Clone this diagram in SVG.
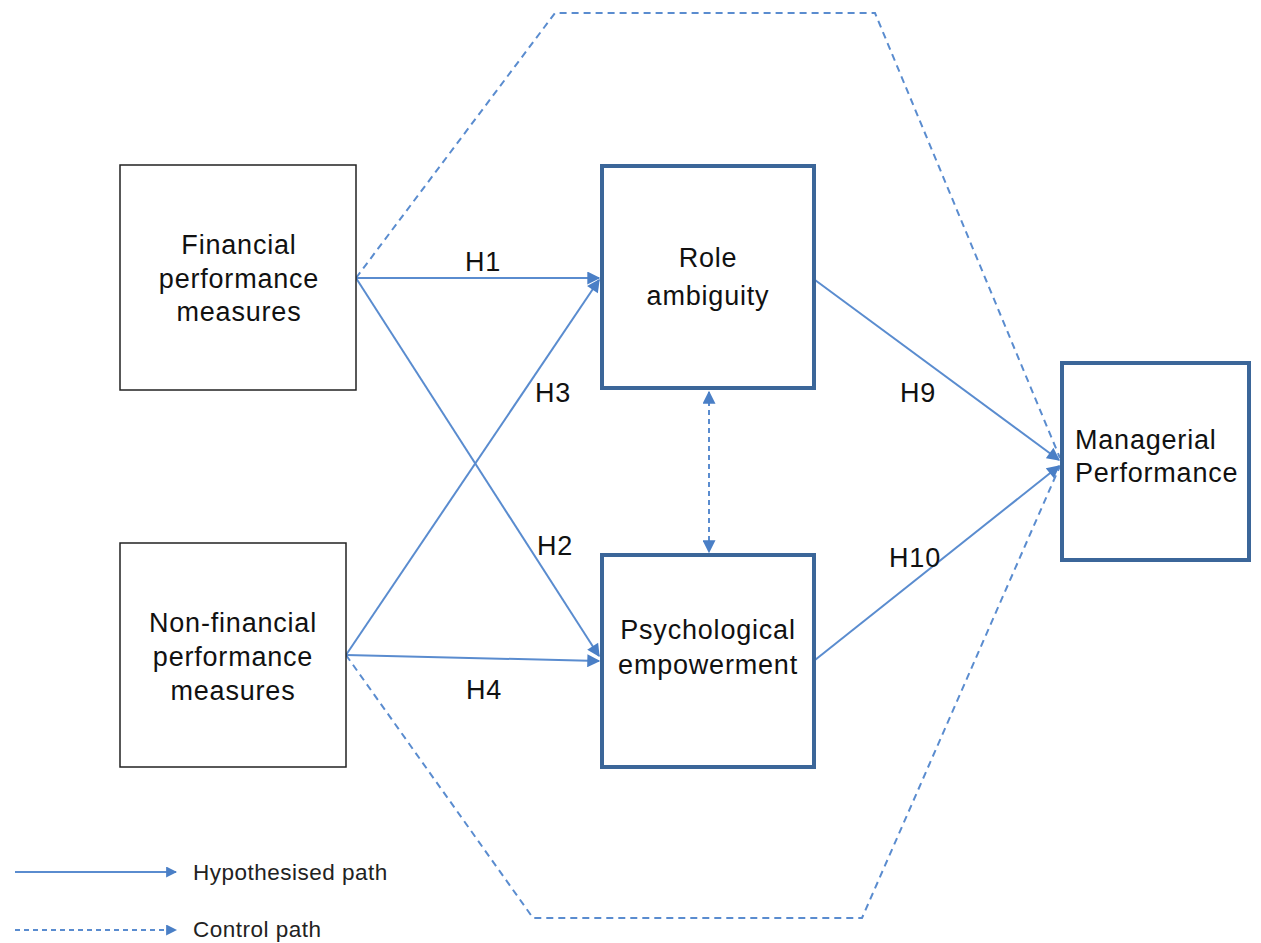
<svg xmlns="http://www.w3.org/2000/svg" width="1261" height="943" viewBox="0 0 1261 943">
<style>
.thin{fill:#fff;stroke:#222;stroke-width:1.5}
.thick{fill:#fff;stroke:#3b6699;stroke-width:4}
.t{font-family:"Liberation Sans",Arial,sans-serif;font-size:27px;letter-spacing:0.8px;fill:#111}
.l{font-family:"Liberation Sans",Arial,sans-serif;font-size:22.5px;letter-spacing:0.5px;fill:#222}
.s{fill:none;stroke:#5a8ccf;stroke-width:2}
.d{fill:none;stroke:#5a8ccf;stroke-width:2;stroke-dasharray:7,5}
</style>
<defs>
<marker id="a" viewBox="0 0 10 10" refX="9" refY="5" markerWidth="11" markerHeight="11" markerUnits="userSpaceOnUse" orient="auto-start-reverse">
<path d="M0,0L10,5L0,10z" fill="#4a7fc6"/>
</marker>
<marker id="b" viewBox="0 0 10 10" refX="9" refY="5" markerWidth="14" markerHeight="13" markerUnits="userSpaceOnUse" orient="auto-start-reverse">
<path d="M0,0L10,5L0,10z" fill="#4a7fc6"/>
</marker>
</defs>
<rect width="1261" height="943" fill="#fff"/>
<g id="connectors">
<polyline class="d" points="356,278 555,13 875,13 1060,458"/>
<polyline class="d" points="346,655 533,918 862,918 1060,466"/>
<line class="s" x1="356" y1="278" x2="599" y2="278" marker-end="url(#b)"/>
<line class="s" x1="356" y1="278" x2="599" y2="656" marker-end="url(#b)"/>
<line class="s" x1="346" y1="655" x2="599" y2="280" marker-end="url(#b)"/>
<line class="s" x1="346" y1="655" x2="599" y2="661" marker-end="url(#b)"/>
<line class="s" x1="815" y1="280" x2="1059" y2="460" marker-end="url(#b)"/>
<line class="s" x1="815" y1="660" x2="1059" y2="466" marker-end="url(#b)"/>
<line class="d" style="stroke-dasharray:5,4" x1="709" y1="392" x2="709" y2="552" marker-start="url(#b)" marker-end="url(#b)"/>
<line class="s" x1="15" y1="872" x2="176" y2="872" marker-end="url(#a)"/>
<line class="d" style="stroke-dasharray:5,4" x1="15" y1="930" x2="176" y2="930" marker-end="url(#a)"/>
</g>
<g id="financial">
<rect class="thin" x="120" y="165" width="236" height="225"/>
<text class="t" text-anchor="middle" x="239" y="254">Financial</text>
<text class="t" text-anchor="middle" x="239" y="288">performance</text>
<text class="t" text-anchor="middle" x="239" y="321">measures</text>
</g>
<g id="nonfinancial">
<rect class="thin" x="120" y="543" width="226" height="224"/>
<text class="t" text-anchor="middle" x="233" y="632">Non-financial</text>
<text class="t" text-anchor="middle" x="233" y="666">performance</text>
<text class="t" text-anchor="middle" x="233" y="700">measures</text>
</g>
<g id="role">
<rect class="thick" x="602" y="166" width="212" height="222"/>
<text class="t" text-anchor="middle" x="708" y="267">Role</text>
<text class="t" text-anchor="middle" x="708" y="305">ambiguity</text>
</g>
<g id="psych">
<rect class="thick" x="602" y="555" width="212" height="212"/>
<text class="t" text-anchor="middle" x="708" y="639">Psychological</text>
<text class="t" text-anchor="middle" x="708" y="674">empowerment</text>
</g>
<g id="managerial">
<rect class="thick" x="1062" y="363" width="187" height="197"/>
<text class="t" x="1075" y="449">Managerial</text>
<text class="t" x="1075" y="482">Performance</text>
</g>
<g id="labels">
<text class="t" text-anchor="middle" x="483" y="271">H1</text>
<text class="t" text-anchor="middle" x="553" y="402">H3</text>
<text class="t" text-anchor="middle" x="555" y="555">H2</text>
<text class="t" text-anchor="middle" x="484" y="699">H4</text>
<text class="t" text-anchor="middle" x="918" y="402">H9</text>
<text class="t" text-anchor="middle" x="915" y="567">H10</text>
<text class="l" x="193" y="880">Hypothesised path</text>
<text class="l" x="193" y="937">Control path</text>
</g>
</svg>
